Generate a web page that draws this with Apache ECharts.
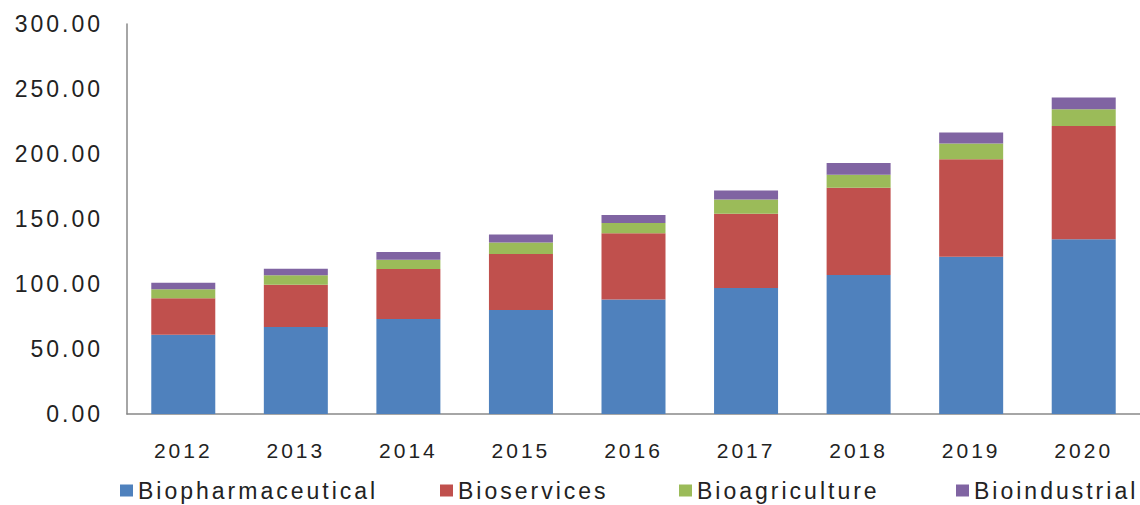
<!DOCTYPE html>
<html>
<head>
<meta charset="utf-8">
<script src="https://cdn.jsdelivr.net/npm/echarts@6/dist/echarts.min.js"></script>
<style>
  html, body { margin: 0; padding: 0; background: #fff; }
  #chart { width: 1140px; height: 505px; }
  #chart svg text { letter-spacing: 3px; }
</style>
</head>
<body>
<div id="chart"></div>
<script>
const categories = ['2012', '2013', '2014', '2015', '2016', '2017', '2018', '2019', '2020'];
const biopharmaceutical = [61, 67, 73, 80, 88, 97, 107, 121, 134.5];
const bioservices = [28, 32.5, 38.5, 43, 51, 57, 67, 75, 87];
const bioagriculture = [7, 7.2, 7.2, 9, 8, 11, 10, 12, 13];
const bioindustrial = [5, 5, 6, 6, 6, 7, 9, 8.5, 9];
const seriesNames = ['Biopharmaceutical', 'Bioservices', 'Bioagriculture', 'Bioindustrial'];
const yTickLabels = ['0.00', '50.00', '100.00', '150.00', '200.00', '250.00', '300.00'];

const colors = ['#4f81bd', '#c0504d', '#9bbb59', '#8064a2'];
const textColor = '#222';
const font = 'Liberation Sans, Arial, sans-serif';

const chart = echarts.init(document.getElementById('chart'), null, { renderer: 'svg' });

const legendLefts = [120, 440, 679, 956];
const legends = seriesNames.map((n, i) => ({
  data: [n],
  left: legendLefts[i],
  top: 479,
  icon: 'rect',
  itemWidth: 13,
  itemHeight: 12,
  padding: 0,
  selectedMode: false,
  textStyle: { color: textColor, fontSize: 23, fontFamily: font }
}));

const dataArr = [biopharmaceutical, bioservices, bioagriculture, bioindustrial];

chart.setOption({
  animation: false,
  color: colors,
  grid: { left: 127, top: 24, width: 1015, height: 390, containLabel: false },
  legend: legends,
  xAxis: {
    type: 'category',
    data: categories,
    axisLine: { lineStyle: { color: '#888', width: 1.5 } },
    axisTick: { show: false },
    axisLabel: { color: textColor, fontSize: 21, fontFamily: font, margin: 26 }
  },
  yAxis: {
    type: 'value',
    min: 0,
    max: 300,
    interval: 50,
    axisLine: { show: true, lineStyle: { color: '#888', width: 1.5 } },
    axisTick: { show: false },
    splitLine: { show: false },
    axisLabel: {
      color: textColor, fontSize: 23, fontFamily: font, margin: 24,
      formatter: (v) => yTickLabels[Math.round(v / 50)]
    }
  },
  series: seriesNames.map((n, i) => ({
    name: n,
    type: 'bar',
    stack: 'total',
    barWidth: 64,
    data: dataArr[i],
    itemStyle: { color: colors[i] }
  }))
});
</script>
</body>
</html>
